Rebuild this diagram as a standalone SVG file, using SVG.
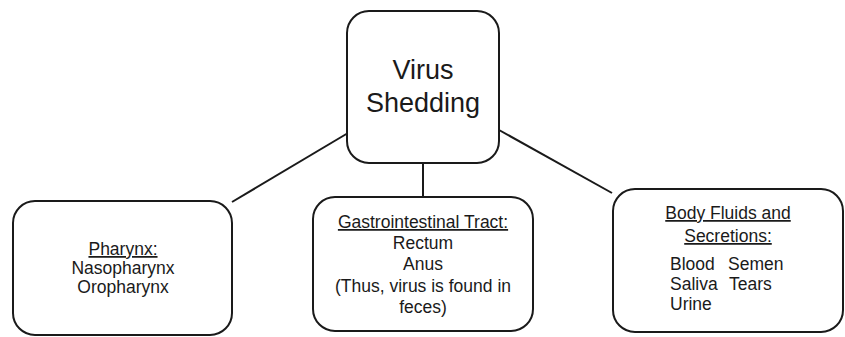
<svg xmlns="http://www.w3.org/2000/svg" width="845" height="337" viewBox="0 0 845 337">
<style>
.box{fill:#fff;stroke:#1a1a1a;stroke-width:2}
.ln{stroke:#1a1a1a;stroke-width:2;fill:none}
text{font-family:"Liberation Sans",Arial,sans-serif;fill:#1a1a1a}
.t{font-size:17.5px;text-anchor:middle}
.l{font-size:17.5px}
.u{text-decoration:underline}
.big{font-size:27px;text-anchor:middle}
</style>
<rect width="845" height="337" fill="#fff"/>
<g id="connectors">
<line class="ln" x1="348" y1="133" x2="232" y2="202"/>
<line class="ln" x1="499" y1="130" x2="612" y2="193"/>
<line class="ln" x1="423" y1="163" x2="423" y2="197"/>
</g>
<g id="virus-shedding">
<rect class="box" x="347" y="11" width="152" height="152" rx="22"/>
<text class="big" x="423" y="79">Virus</text>
<text class="big" x="423" y="112">Shedding</text>
</g>
<g id="pharynx">
<rect class="box" x="13" y="201" width="219" height="134" rx="22"/>
<text class="t u" x="123" y="255">Pharynx:</text>
<text class="t" x="123" y="274">Nasopharynx</text>
<text class="t" x="123" y="293">Oropharynx</text>
</g>
<g id="gi-tract">
<rect class="box" x="313" y="197" width="220" height="134" rx="22"/>
<text class="t u" x="423" y="228">Gastrointestinal Tract:</text>
<text class="t" x="423" y="249">Rectum</text>
<text class="t" x="423" y="270">Anus</text>
<text class="t" x="423" y="292">(Thus, virus is found in</text>
<text class="t" x="423" y="313">feces)</text>
</g>
<g id="body-fluids">
<rect class="box" x="613" y="189" width="230" height="143" rx="22"/>
<text class="t u" x="728" y="219">Body Fluids and</text>
<text class="t u" x="728" y="242">Secretions:</text>
<text class="l" x="670" y="270">Blood</text>
<text class="l" x="728" y="270">Semen</text>
<text class="l" x="670" y="290">Saliva</text>
<text class="l" x="729" y="290">Tears</text>
<text class="l" x="670" y="310">Urine</text>
</g>
</svg>
